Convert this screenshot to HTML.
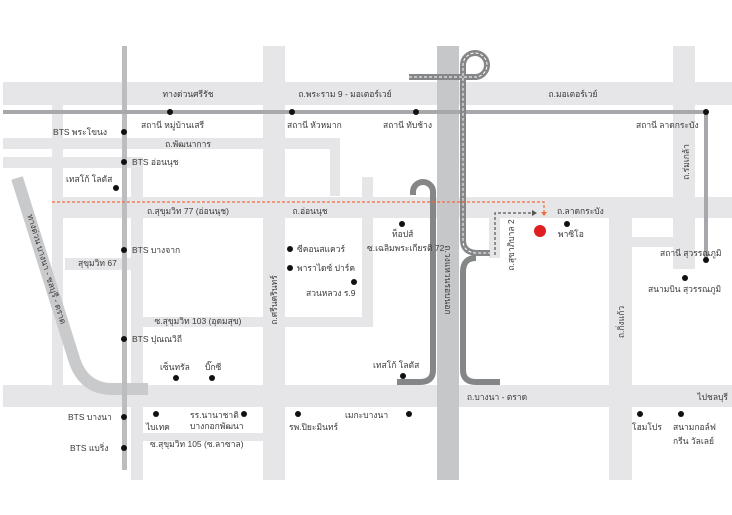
<!DOCTYPE html>
<html><head><meta charset="utf-8"><style>
body{margin:0;background:#fff}
svg{display:block}
text{font-family:"Liberation Sans","DejaVu Sans",sans-serif;font-size:8.5px;fill:#3a3a3a}
</style></head><body>
<svg width="732" height="515" viewBox="0 0 732 515" xmlns="http://www.w3.org/2000/svg">
<g fill="#e6e6e8">
<rect x="3" y="82" width="729" height="23"/>
<rect x="3" y="138" width="337" height="11"/>
<rect x="330" y="138" width="10" height="58"/>
<rect x="3" y="157" width="140" height="11"/>
<rect x="131" y="157" width="12" height="323"/>
<rect x="52" y="105" width="11" height="290"/>
<rect x="52" y="197" width="680" height="21"/>
<rect x="65" y="258" width="66" height="12"/>
<rect x="263" y="46" width="22" height="434"/>
<rect x="143" y="317" width="230" height="10"/>
<rect x="362" y="177" width="11" height="150"/>
<rect x="3" y="385" width="729" height="22"/>
<rect x="143" y="433" width="120" height="8"/>
<rect x="673" y="46" width="22" height="223"/>
<rect x="609" y="218" width="23" height="262"/>
<rect x="632" y="237" width="41" height="10"/>
<rect x="489" y="218" width="11" height="40"/>
</g>
<rect x="437" y="46" width="22" height="434" fill="#c6c7c9"/>
<path d="M17,178 L75,362 Q85,389 112,389 L148,389" fill="none" stroke="#c9cacc" stroke-width="12"/>
<rect x="122" y="46" width="5" height="424" fill="#bcbdbf"/>
<path d="M3,112 L706,112 L706,260" fill="none" stroke="#a7a8ab" stroke-width="4"/>
<g fill="none" stroke="#858688" stroke-width="6">
<path d="M409,77 L476,77 A12,12 0 1 0 463,65 L463,240 Q463,253 478,253 L490,253"/>
<path d="M413,195 L413,192 A10,10 0 0 1 433,192 L433,370 Q433,382 420,382 L397,382"/>
<path d="M476,258 Q463,258 463,272 L463,370 Q463,382 476,382 L500,382"/>
</g>
<g fill="none" stroke="#fff" stroke-width="1" stroke-dasharray="3,2">
<path d="M409,77 L476,77 A12,12 0 1 0 463,65 L463,240 Q463,253 478,253 L490,253"/>
</g>
<path d="M52,202 L544,202 L544,212" fill="none" stroke="#f26a3c" stroke-width="1.2" stroke-dasharray="3,2"/>
<polygon points="541,212 547,212 544,216" fill="#f26a3c"/>
<path d="M495,255 L495,213 L532,213" fill="none" stroke="#555" stroke-width="1.2" stroke-dasharray="3,2"/>
<polygon points="532,210 537,213 532,216" fill="#555"/>
<circle cx="540" cy="231" r="6" fill="#e02020"/>
<g fill="#111">
<circle cx="170" cy="112" r="3"/><circle cx="292" cy="112" r="3"/><circle cx="416" cy="112" r="3"/><circle cx="706" cy="112" r="3"/>
<circle cx="124" cy="132" r="3"/><circle cx="124" cy="162" r="3"/><circle cx="116" cy="188" r="3"/>
<circle cx="124" cy="250" r="3"/><circle cx="124" cy="339" r="3"/><circle cx="124" cy="417" r="3"/><circle cx="124" cy="448" r="3"/>
<circle cx="290" cy="249" r="3"/><circle cx="290" cy="268" r="3"/><circle cx="354" cy="282" r="3"/>
<circle cx="402" cy="224" r="3"/><circle cx="567" cy="224" r="3"/>
<circle cx="706" cy="260" r="3"/><circle cx="685" cy="278" r="3"/>
<circle cx="176" cy="378" r="3"/><circle cx="212" cy="378" r="3"/><circle cx="403" cy="376" r="3"/>
<circle cx="156" cy="414" r="3"/><circle cx="244" cy="414" r="3"/><circle cx="298" cy="414" r="3"/><circle cx="409" cy="414" r="3"/>
<circle cx="640" cy="414" r="3"/><circle cx="681" cy="414" r="3"/>
</g>
<text x="188" y="97" text-anchor="middle">ทางด่วนศรีรัช</text>
<text x="345" y="97" text-anchor="middle">ถ.พระราม 9 - มอเตอร์เวย์</text>
<text x="573" y="97" text-anchor="middle">ถ.มอเตอร์เวย์</text>
<text x="141" y="128">สถานี หมู่บ้านเสรี</text>
<text x="287" y="128">สถานี หัวหมาก</text>
<text x="383" y="128">สถานี ทับช้าง</text>
<text x="636" y="128">สถานี ลาดกระบัง</text>
<text x="107" y="135" text-anchor="end">BTS พระโขนง</text>
<text x="188" y="147" text-anchor="middle">ถ.พัฒนาการ</text>
<text x="132" y="165">BTS อ่อนนุช</text>
<text x="66" y="182">เทสโก้ โลตัส</text>
<text x="188" y="214" text-anchor="middle">ถ.สุขุมวิท 77 (อ่อนนุช)</text>
<text x="310" y="214" text-anchor="middle">ถ.อ่อนนุช</text>
<text x="557" y="214">ถ.ลาดกระบัง</text>
<text x="132" y="253">BTS บางจาก</text>
<text x="78" y="266">สุขุมวิท 67</text>
<text x="297" y="252">ซีคอนสแควร์</text>
<text x="297" y="271">พาราไดซ์ ปาร์ค</text>
<text x="306" y="296">สวนหลวง ร.9</text>
<text x="392" y="237">ท็อปส์</text>
<text x="367" y="251">ซ.เฉลิมพระเกียรติ 72</text>
<text x="558" y="237">พาซิโอ</text>
<text x="660" y="256">สถานี สุวรรณภูมิ</text>
<text x="648" y="292">สนามบิน สุวรรณภูมิ</text>
<text x="198" y="324" text-anchor="middle">ซ.สุขุมวิท 103 (อุดมสุข)</text>
<text x="132" y="342">BTS ปุณณวิถี</text>
<text x="160" y="370">เซ็นทรัล</text>
<text x="205" y="370">บิ๊กซี</text>
<text x="373" y="368">เทสโก้ โลตัส</text>
<text x="497" y="400" text-anchor="middle">ถ.บางนา - ตราด</text>
<text x="728" y="400" text-anchor="end">ไปชลบุรี</text>
<text x="68" y="420">BTS บางนา</text>
<text x="70" y="451">BTS แบริ่ง</text>
<text x="146" y="430">ไบเทค</text>
<text x="190" y="418">รร.นานาชาติ</text>
<text x="190" y="429">บางกอกพัฒนา</text>
<text x="289" y="430">รพ.ปิยะมินทร์</text>
<text x="345" y="418">เมกะบางนา</text>
<text x="150" y="447">ซ.สุขุมวิท 105 (ซ.ลาซาล)</text>
<text x="632" y="430">โฮมโปร</text>
<text x="673" y="430">สนามกอล์ฟ</text>
<text x="673" y="444">กรีน วัลเลย์</text>
<text transform="translate(277,300) rotate(-90)" text-anchor="middle">ถ.ศรีนครินทร์</text>
<text transform="translate(445,280) rotate(90)" text-anchor="middle">ถ.วงแหวนรอบนอก</text>
<text transform="translate(514,245) rotate(-90)" text-anchor="middle">ถ.สุขาภิบาล 2</text>
<text transform="translate(689,162) rotate(-90)" text-anchor="middle">ถ.ร่มเกล้า</text>
<text transform="translate(624,322) rotate(-90)" text-anchor="middle">ถ.กิ่งแก้ว</text>
<text transform="translate(44,270) rotate(73)" text-anchor="middle">ทางด่วน บางนา - ชลบุรี - ตราด</text>
</svg>
</body></html>
